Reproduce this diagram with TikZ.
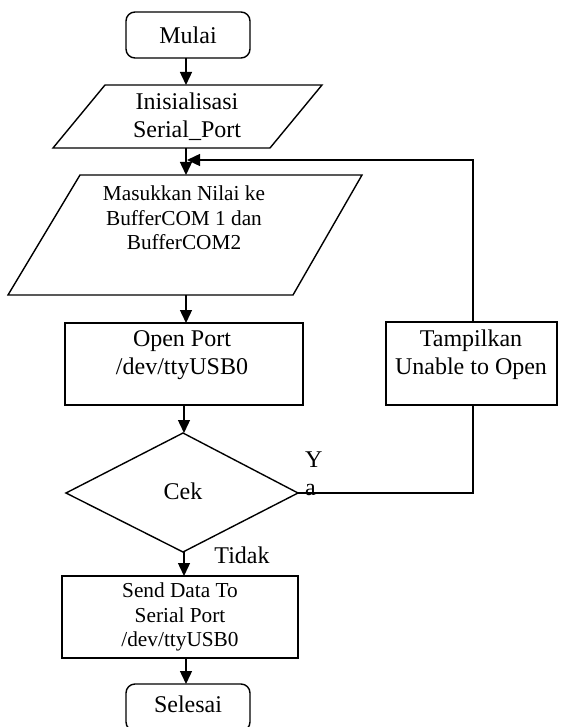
\documentclass[tikz,border=0pt]{standalone}
\usepackage{fontspec}
\setmainfont{Liberation Serif}
\usetikzlibrary{arrows.meta}
\begin{document}
\begin{tikzpicture}[x=1pt,y=-1pt,
  shapeline/.style={line width=1.4pt},
  conn/.style={line width=1.4pt},
  arr/.style={conn,-{Triangle[length=13pt,width=12pt]}},
  bigtxt/.style={align=center,inner sep=0pt,font=\fontsize{24}{27.6}\selectfont},
  smalltxt/.style={align=center,inner sep=0pt,font=\fontsize{21.3}{24.5}\selectfont}]
\useasboundingbox (0,0) rectangle (565,727);
\clip (0,0) rectangle (565,727);
\fill[white] (0,0) rectangle (565,727);

% Mulai
\draw[shapeline,rounded corners=9pt] (126,12) rectangle (250,58);
\node[bigtxt] (mulai) at (188,35) {Mulai};
\coordinate (mulaiS) at (186,58);

% Inisialisasi
\draw[shapeline] (105,85) -- (322,85) -- (270,148) -- (53,148) -- cycle;
\node[bigtxt] (init) at (187,117) {Inisialisasi\\Serial\_Port};
\coordinate (initN) at (186,85);
\coordinate (initS) at (186,148);

% Masukkan
\draw[shapeline] (80,175) -- (362,175) -- (293,295) -- (8,295) -- cycle;
\node[smalltxt] (masuk) at (184,218) {Masukkan Nilai ke\\BufferCOM 1 dan\\BufferCOM2};
\coordinate (masukN) at (186,175);
\coordinate (masukS) at (186,295);

% Open Port
\draw[shapeline] (65,323) rectangle (303,405);
\node[bigtxt] (open) at (182,355) {Open Port\\/dev/ttyUSB0};
\coordinate (openN) at (186,323);
\coordinate (openS) at (184,405);

% Tampilkan
\draw[shapeline] (386,322) rectangle (557,405);
\node[bigtxt] (tamp) at (471,355) {Tampilkan\\Unable to Open};
\coordinate (tampN) at (473,322);
\coordinate (tampS) at (473,405);

% Cek
\draw[shapeline] (183,433) -- (298,493) -- (183,552) -- (66,493) -- cycle;
\node[bigtxt] (cek) at (183,491) {Cek};
\coordinate (cekN) at (184,433);
\coordinate (cekE) at (298,493);
\coordinate (cekS) at (184,552);

% Send Data
\draw[shapeline] (62,576) rectangle (298,658);
\node[smalltxt] (send) at (180,617) {Send Data To\\Serial Port\\/dev/ttyUSB0};
\coordinate (sendN) at (184,576);
\coordinate (sendS) at (186,658);

% Selesai
\draw[shapeline,rounded corners=9pt] (126,684) rectangle (250,731);
\node[bigtxt] (selesai) at (188,704) {Selesai};
\coordinate (selN) at (186,684);

% labels
\node[bigtxt,align=left,anchor=north west] (ya) at (305,452) {Y\\a};
\node[bigtxt] (tidak) at (242,555) {Tidak};

% connectors
\draw[arr] (mulaiS) -- (initN);
\draw[arr] (initS) -- (masukN);
\draw[arr] (masukS) -- (openN);
\draw[arr] (openS) -- (cekN);
\draw[arr] (cekS) -- (sendN);
\draw[arr] (sendS) -- (selN);
\coordinate (yaC) at (473,493);
\coordinate (fbC) at (473,160);
\coordinate (fbT) at (187,160);
\draw[conn] (cekE) -- (yaC) -- (tampS);
\draw[arr] (tampN) -- (fbC) -- (fbT);
\end{tikzpicture}
\end{document}
